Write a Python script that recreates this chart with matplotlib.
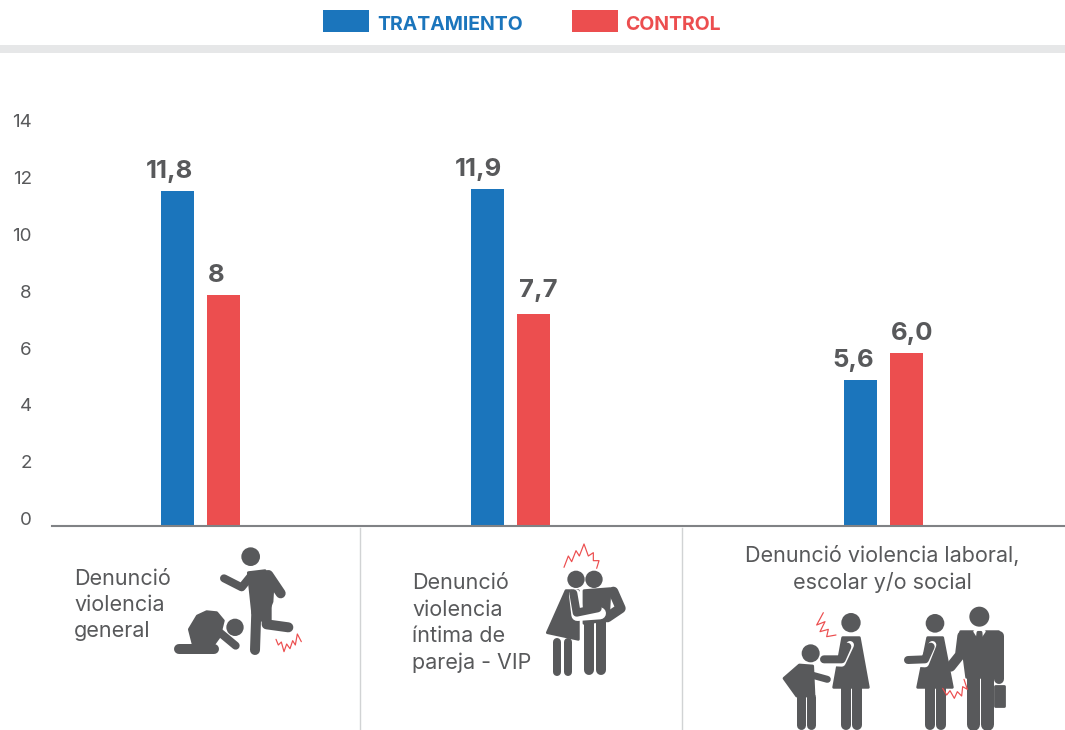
import matplotlib
matplotlib.use("Agg")
import matplotlib.pyplot as plt
from matplotlib.patches import Circle, Polygon, Rectangle
from matplotlib.transforms import ScaledTranslation

# ---- data ----
categories = ["Denunció\nviolencia\ngeneral", "Denunció\nviolencia\níntima de\npareja - VIP",
              "Denunció violencia laboral,\nescolar y/o social"]
series_names = ["TRATAMIENTO", "CONTROL"]
tratamiento = [11.8, 11.87, 5.14]
control = [8.13, 7.46, 6.09]
tratamiento_labels = ["11,8", "11,9", "5,6"]
control_labels = ["8", "7,7", "6,0"]
y_ticks = [0, 2, 4, 6, 8, 10, 12, 14]

BLUE, RED, GREY, DARK = "#1b75bc", "#ec4e4f", "#58595b", "#58595b"
FONT = "Inter"
W, H = 1065, 730
fig = plt.figure(figsize=(W / 100, H / 100), dpi=100, facecolor="white")

# overlay in pixel coordinates
ov = fig.add_axes([0, 0, 1, 1], zorder=1)
ov.set_xlim(0, W); ov.set_ylim(H, 0); ov.axis("off")

# chart axes
base, top = 526, 100
ax = fig.add_axes([52 / W, (H - base) / H, (W - 52) / W, (base - top) / H], zorder=2)
ax.patch.set_alpha(0)
ax.set_xlim(52, W)
ax.set_ylim(0, (base - top) / 28.4)
for s in ["top", "right", "left"]:
    ax.spines[s].set_visible(False)
ax.spines["bottom"].set_color("#808285"); ax.spines["bottom"].set_linewidth(1.5)
ax.set_xticks([])
ax.set_yticks(y_ticks)
ax.tick_params(axis="y", length=0, pad=14.5, labelcolor=GREY, labelsize=13.5)
off = ScaledTranslation(0, 7.5 / 100, fig.dpi_scale_trans)
for t in ax.get_yticklabels():
    t.set_fontfamily(FONT); t.set_transform(t.get_transform() + off)

centres = [200.5, 510.5, 883.5]
bw, gap = 33, 13
label_shift_t = [-8, -9, -7]
label_shift_c = [-7, 5, 6]
label_lift_c = [6, 9, 6]
for i, c in enumerate(centres):
    xa, xb = c - (bw + gap) / 2, c + (bw + gap) / 2
    ax.bar(xa, tratamiento[i], width=bw, color=BLUE)
    ax.bar(xb, control[i], width=bw, color=RED)
    ax.annotate(tratamiento_labels[i], (xa + label_shift_t[i], tratamiento[i]), xytext=(0, 6),
                textcoords="offset points", ha="center", va="bottom", fontsize=18.5,
                fontweight="bold", color=DARK, family=FONT)
    ax.annotate(control_labels[i], (xb + label_shift_c[i], control[i]), xytext=(0, label_lift_c[i]),
                textcoords="offset points", ha="center", va="bottom", fontsize=18.5,
                fontweight="bold", color=DARK, family=FONT)

# legend band and swatches
ov.add_patch(Rectangle((0, 45), W, 8, color="#e6e7e8", lw=0))
for x, col, name, tx in [(323, BLUE, series_names[0], 377), (572, RED, series_names[1], 625)]:
    ov.add_patch(Rectangle((x, 10), 46, 22, color=col, lw=0))
    ov.text(tx, 24.5, name, color=col, fontsize=14, fontweight="bold", va="center", family=FONT)

# separators
for x in (360, 682):
    ov.plot([x, x], [528, H], color="#d1d3d4", lw=1)

# category text
tk = dict(color=GREY, fontsize=15.5, family=FONT, linespacing=1.39)
ov.text(74, 605, categories[0], va="center", ha="left", **tk)
ov.text(412, 623, categories[1], va="center", ha="left", **tk)
ov.text(882, 569, categories[2], va="center", ha="center", **tk)

# ---- pictograms (helpers take crop coordinates scaled by 1/3) ----
class Ico:
    def __init__(s, ox, oy): s.ox, s.oy = ox, oy
    def p(s, x, y): return (s.ox + x / 3, s.oy + y / 3)
    def head(s, x, y, r): ov.add_patch(Circle(s.p(x, y), r / 3, color=DARK, lw=0, zorder=3))
    def poly(s, pts, c=DARK, z=3):
        ov.add_patch(Polygon([s.p(*q) for q in pts], closed=True, fc=c, ec=c, lw=2,
                             joinstyle="round", zorder=z))
    def line(s, pts, w=6, c=DARK, z=3):
        q = [s.p(*a) for a in pts]
        ov.plot([a[0] for a in q], [a[1] for a in q], color=c, lw=w * 0.72,
                solid_capstyle="round", solid_joinstyle="round", zorder=z)
    def zig(s, pts): s.line(pts, w=1.2, c=RED, z=4)

a = Ico(60, 530)
a.head(572, 80, 28)
a.poly([(565, 128), (615, 122), (640, 150), (636, 215), (612, 275), (578, 250)])
a.line([(492, 145), (545, 172), (575, 135)], 8)
a.line([(625, 135), (662, 190)], 10)
a.line([(590, 215), (585, 360)], 10)
a.line([(620, 225), (620, 283), (685, 292)], 10)
a.head(525, 292, 26)
a.poly([(388, 298), (412, 258), (440, 245), (470, 248), (490, 272), (478, 320), (460, 345), (400, 345)])
a.line([(480, 308), (527, 347)], 8)
a.line([(358, 358), (462, 358)], 10)
a.zig([(648, 328), (655, 345), (664, 336), (672, 365), (680, 342), (690, 356), (698, 332), (706, 345), (712, 312), (724, 335)])

b = Ico(400, 530)
b.head(528, 148, 26); b.head(582, 148, 26)
b.poly([(498, 182), (535, 182), (535, 328), (442, 308)])
b.line([(472, 335), (472, 425)], 8); b.line([(503, 335), (503, 425)], 8)
b.poly([(552, 182), (630, 176), (625, 270), (552, 280)])
b.line([(566, 270), (566, 420)], 10); b.line([(602, 270), (602, 420)], 10)
b.line([(640, 185), (662, 235), (622, 262)], 10)
b.line([(525, 195), (532, 255), (600, 250)], 12, c="white", z=3.5)
b.line([(520, 190), (530, 248), (593, 235)], 8, z=3.6)
b.zig([(492, 112), (505, 78), (515, 95), (528, 62), (538, 78), (552, 42), (565, 78), (580, 68), (580, 92), (597, 92), (590, 115)])

c = Ico(770, 590)
c.head(122, 190, 27)
c.poly([(88, 225), (128, 228), (132, 318), (80, 318), (42, 265)])
c.line([(94, 320), (94, 405)], 9); c.line([(122, 320), (122, 405)], 9)
c.line([(125, 255), (172, 268)], 7)
c.head(243, 98, 29)
c.poly([(218, 143), (268, 143), (295, 292), (191, 292)])
c.line([(227, 295), (227, 405)], 10); c.line([(260, 295), (260, 405)], 10)
c.line([(160, 215), (215, 218), (240, 165)], 8, c="white", z=3.5)
c.line([(162, 208), (215, 208), (232, 170)], 8, z=3.6)
c.head(495, 100, 28)
c.poly([(473, 143), (518, 143), (547, 292), (443, 292)])
c.line([(480, 295), (480, 405)], 10); c.line([(512, 295), (512, 405)], 10)
c.line([(412, 217), (465, 220), (487, 165)], 8, c="white", z=3.5)
c.line([(414, 210), (465, 208), (482, 170)], 8, z=3.6)
c.head(628, 80, 30)
c.poly([(572, 125), (686, 125), (672, 262), (590, 262)])
c.line([(608, 255), (608, 402)], 13); c.line([(652, 255), (652, 402)], 13)
c.line([(577, 138), (570, 195), (542, 230)], 10, z=3.7)
c.line([(688, 138), (688, 268)], 10)
c.poly([(675, 288), (702, 288), (702, 347), (675, 347)])
c.poly([(614, 124), (628, 146), (643, 124)], c="white", z=3.8)
c.poly([(624, 127), (633, 127), (635, 150), (628, 162), (621, 150)], z=3.9)
c.zig([(160, 68), (140, 105), (165, 95), (150, 125), (175, 118), (170, 140), (198, 135)])
c.zig([(518, 295), (530, 315), (540, 302), (553, 325), (562, 305), (575, 318), (578, 290), (592, 298), (582, 268)])

fig.savefig("out.png", dpi=100, facecolor="white")
